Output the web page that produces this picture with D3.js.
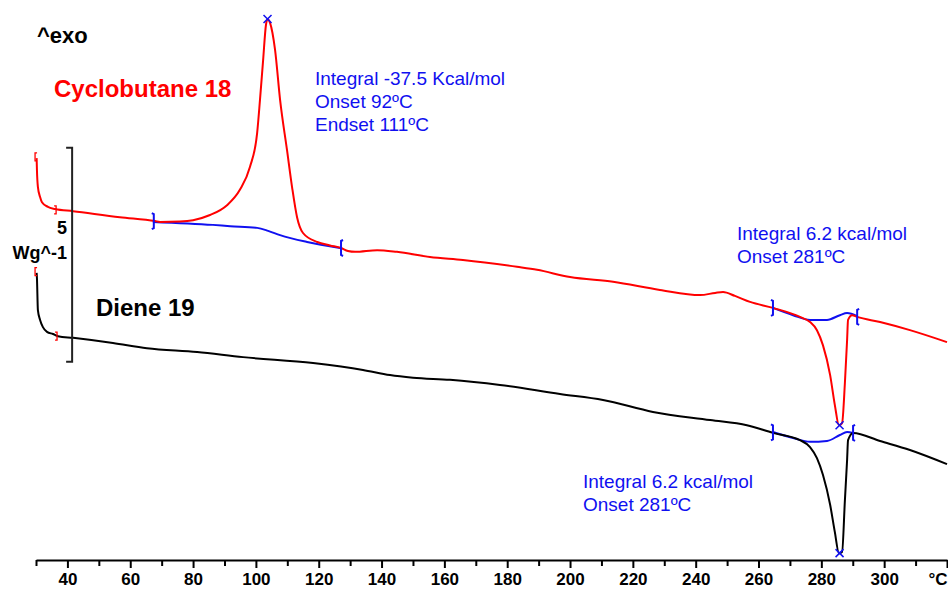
<!DOCTYPE html>
<html>
<head>
<meta charset="utf-8">
<script src="https://cdn.jsdelivr.net/npm/d3@7"></script>
<style>
  body { margin: 0; background: #fff; }
  svg { display: block; font-family: "Liberation Sans", Arial, sans-serif; }
</style>
</head>
<body>
<div id="chart"></div>
<script>
// DSC traces: temperature (°C) and heat flow (W/g, arbitrary offset, exo up)
const redTemp = [30.2, 30.3, 30.6, 31.3, 31.9, 33.8, 36.1, 41.8, 56.7, 67.9, 69.5, 75.8, 80.0, 85.4, 90.8,
  94.9, 98.1, 100.4, 101.3, 102.3, 103.2, 103.7, 104.5, 106.1, 107.7, 109.9, 111.5, 113.1, 115.0, 119.5,
  123.6, 127.1, 129.3, 131.6, 138.6, 144.9, 155.4, 165.9, 183.1, 189.5, 200.0, 213.7, 228.6, 241.4, 246.2,
  248.7, 252.5, 257.3, 264.6, 273.2, 276.4, 278.6, 280.5, 282.8, 284.3, 285.6, 286.6, 287.5, 288.2, 288.5,
  289.8, 291.4, 298.7, 308.2, 320.0];
const redFlow = [9.39, 9.11, 8.72, 8.48, 8.36, 8.25, 8.20, 8.15, 8.01, 7.92, 7.90, 7.91, 7.94, 8.06, 8.29,
  8.65, 9.18, 9.98, 10.75, 11.68, 12.50, 12.64, 12.55, 11.92, 10.75, 9.58, 8.72, 8.01, 7.64, 7.43,
  7.35, 7.29, 7.22, 7.20, 7.24, 7.20, 7.08, 7.01, 6.85, 6.78, 6.61, 6.50, 6.31, 6.19, 6.24,
  6.26, 6.17, 6.03, 5.89, 5.68, 5.56, 5.37, 5.02, 4.32, 3.62, 3.15, 3.20, 4.14, 5.14, 5.61,
  5.72, 5.68, 5.56, 5.37, 5.09];

const blackTemp = [30.2, 30.3, 30.6, 31.3, 32.2, 33.5, 35.4, 37.0, 41.8, 54.5, 65.3, 81.3, 95.9, 118.2,
  134.1, 142.7, 150.0, 161.8, 177.7, 196.8, 210.5, 226.4, 244.6, 256.3, 264.6, 273.2, 276.4, 278.6, 280.5,
  282.8, 284.3, 285.6, 286.6, 287.5, 288.2, 288.5, 290.1, 298.7, 308.2, 320.0];
const blackFlow = [6.71, 6.59, 5.84, 5.61, 5.44, 5.33, 5.28, 5.23, 5.19, 5.07, 4.95, 4.86, 4.74, 4.60,
  4.44, 4.32, 4.26, 4.21, 4.09, 3.88, 3.74, 3.46, 3.27, 3.15, 2.97, 2.80, 2.64, 2.38, 1.99,
  1.29, 0.65, 0.16, 0.19, 1.40, 2.34, 2.80, 2.97, 2.78, 2.57, 2.24];

// integration baselines (blue)
const base1Temp = [67.2, 86.3, 91.8, 100.4, 103.9, 107.7, 116.3, 126.8];
const base1Flow = [7.90, 7.83, 7.80, 7.76, 7.69, 7.59, 7.43, 7.29];
const base2Temp = [264.6, 271.0, 276.4, 281.8, 285.9, 288.2, 291.4];
const base2Flow = [5.89, 5.72, 5.61, 5.61, 5.72, 5.77, 5.70];
const base3Temp = [264.6, 271.0, 276.4, 281.8, 285.9, 288.2, 290.1];
const base3Flow = [2.99, 2.85, 2.76, 2.78, 2.92, 2.99, 2.97];

// integration limits and peak marks
const limitTemp = [67.5, 127.1, 264.6, 291.4, 264.6, 290.1];
const limitFlow = [7.92, 7.29, 5.89, 5.68, 2.98, 2.97];
const limitSide = [-1, 1, -1, 1, -1, 1];
const peakTemp = [103.7, 285.8, 285.8];
const peakFlow = [12.64, 3.15, 0.16];

// scale bar: 5 W/g
const scaleBarFlow = [4.63, 9.63];
const scaleBarTemp = 41.5;

const tickTemps = d3.range(30, 321, 10);
const tickLabels = [40, 60, 80, 100, 120, 140, 160, 180, 200, 220, 240, 260, 280, 300];

const WIDTH = 948;
const HEIGHT = 590;
const AXIS_Y = 560;
const BLUE = '#1010f0';
const FONT = '"Liberation Sans", Arial, sans-serif';

const xScale = d3.scaleLinear().domain([30, 320]).range([36, 947]);
const yScale = d3.scaleLinear().domain([0, 13.084]).range([AXIS_Y, 0]);

const svg = d3.select('#chart')
  .append('svg')
  .attr('width', WIDTH)
  .attr('height', HEIGHT);

const line = d3.line()
  .x(d => xScale(d[0]))
  .y(d => yScale(d[1]))
  .curve(d3.curveMonotoneX);

function drawLine(temps, flows, color) {
  svg.append('path')
    .datum(d3.zip(temps, flows))
    .attr('d', line)
    .attr('fill', 'none')
    .attr('stroke', color)
    .attr('stroke-width', 2)
    .attr('stroke-linejoin', 'round');
}

// baselines under the curves, curves on top
drawLine(base1Temp, base1Flow, BLUE);
drawLine(base2Temp, base2Flow, BLUE);
drawLine(base3Temp, base3Flow, BLUE);
drawLine(redTemp, redFlow, '#ff0000');
drawLine(blackTemp, blackFlow, '#000000');

// small red brackets at the start of each trace
function bracket(t, f, dir) {
  const x = xScale(t), y = yScale(f);
  svg.append('path')
    .attr('d', 'M' + (x + 2 * dir) + ',' + (y - 4) + 'H' + x + 'V' + (y + 4) + 'H' + (x + 2 * dir))
    .attr('fill', 'none')
    .attr('stroke', '#ff0000')
    .attr('stroke-width', 1.3);
}
bracket(redTemp[0] - 0.5, redFlow[0] + 0.03, 1);
bracket(36.4, 8.18, -1);
bracket(blackTemp[0] - 0.5, blackFlow[0] + 0.03, 1);
bracket(36.7, 5.23, -1);

// integration limit marks
svg.selectAll('.limit')
  .data(d3.range(limitTemp.length))
  .enter()
  .append('path')
  .attr('class', 'limit')
  .attr('d', i => {
    const x = xScale(limitTemp[i]), y = yScale(limitFlow[i]), s = limitSide[i];
    return 'M' + (x + 2 * s) + ',' + (y - 8) + 'L' + x + ',' + (y - 7) + 'V' + (y + 7) + 'L' + (x + 2 * s) + ',' + (y + 8);
  })
  .attr('fill', 'none')
  .attr('stroke', BLUE)
  .attr('stroke-width', 2);

// peak crosses
svg.selectAll('.peak')
  .data(d3.range(peakTemp.length))
  .enter()
  .append('path')
  .attr('class', 'peak')
  .attr('d', i => {
    const x = xScale(peakTemp[i]), y = yScale(peakFlow[i]);
    return 'M' + (x - 4) + ',' + (y - 4) + 'L' + (x + 4) + ',' + (y + 4) + 'M' + (x - 4) + ',' + (y + 4) + 'L' + (x + 4) + ',' + (y - 4);
  })
  .attr('stroke', BLUE)
  .attr('stroke-width', 1.5);

// scale bar
const sbX = xScale(scaleBarTemp);
svg.append('path')
  .attr('d', 'M' + (sbX - 6) + ',' + yScale(scaleBarFlow[1]) + 'H' + sbX + 'V' + yScale(scaleBarFlow[0]) + 'H' + (sbX - 6))
  .attr('fill', 'none')
  .attr('stroke', '#222')
  .attr('stroke-width', 2);

// x axis
const xAxis = d3.axisBottom(xScale)
  .tickValues(tickTemps)
  .tickSizeInner(6)
  .tickSizeOuter(0)
  .tickPadding(7)
  .tickFormat(d => tickLabels.includes(d) ? d : '');

const gx = svg.append('g')
  .attr('transform', 'translate(0,' + AXIS_Y + ')')
  .call(xAxis)
  .attr('font-family', FONT)
  .attr('font-size', 17)
  .attr('font-weight', 'bold');
gx.select('.domain').attr('stroke', '#000').attr('stroke-width', 2);
gx.selectAll('.tick line')
  .attr('stroke', '#000')
  .attr('stroke-width', 2)
  .attr('y2', d => (tickLabels.includes(d) || d === 320) ? 8 : 6);
gx.selectAll('.tick text').attr('fill', '#000');
gx.append('text')
  .attr('x', xScale(320) - 9)
  .attr('y', 13)
  .attr('dy', '0.71em')
  .attr('text-anchor', 'middle')
  .attr('fill', '#000')
  .text('°C');

// labels
function label(x, y, txt, size, color, bold, anchor) {
  svg.append('text')
    .attr('x', x)
    .attr('y', y)
    .attr('font-size', size)
    .attr('font-weight', bold ? 'bold' : 'normal')
    .attr('fill', color)
    .attr('text-anchor', anchor || 'start')
    .text(txt);
}
label(37, 43, '^exo', 22, '#000', true);
label(54, 97, 'Cyclobutane 18', 24, '#ff0000', true);
label(96, 316, 'Diene 19', 24, '#000', true);
label(67, 234, '5', 18, '#000', true, 'end');
label(67, 259, 'Wg^-1', 18, '#000', true, 'end');

label(315, 85, 'Integral -37.5 Kcal/mol', 19, BLUE, false);
label(315, 108, 'Onset 92ºC', 19, BLUE, false);
label(315, 131, 'Endset 111ºC', 19, BLUE, false);
label(737, 240, 'Integral 6.2 kcal/mol', 19, BLUE, false);
label(737, 263, 'Onset 281ºC', 19, BLUE, false);
label(583, 488, 'Integral 6.2 kcal/mol', 19, BLUE, false);
label(583, 511, 'Onset 281ºC', 19, BLUE, false);
</script>
</body>
</html>
